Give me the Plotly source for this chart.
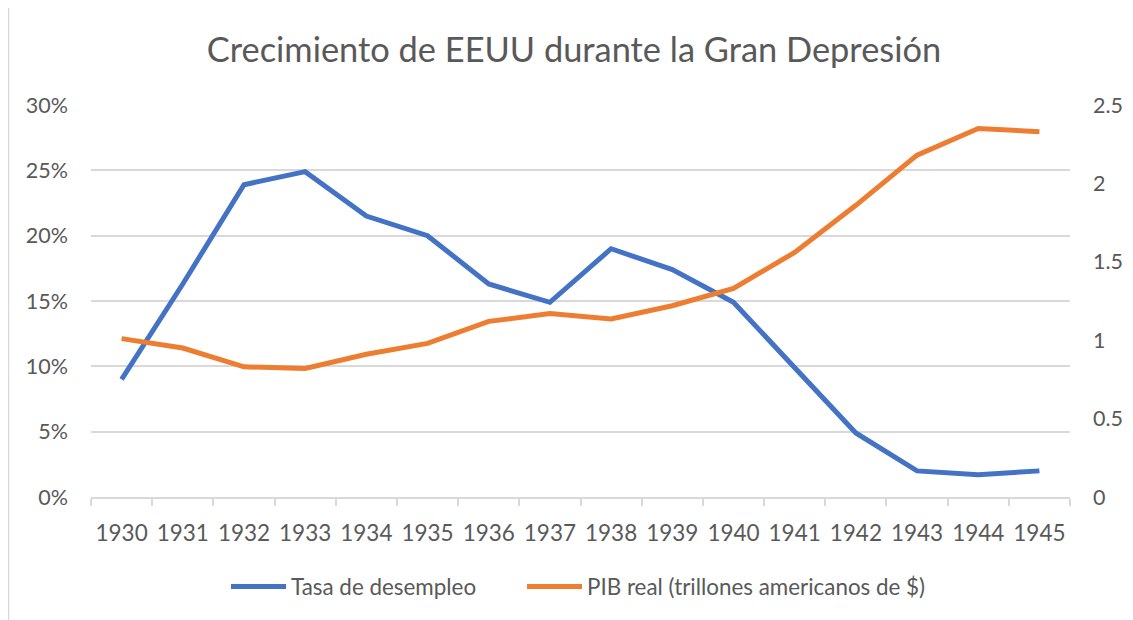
import plotly.graph_objects as go

years = ["1930", "1931", "1932", "1933", "1934", "1935", "1936", "1937",
         "1938", "1939", "1940", "1941", "1942", "1943", "1944", "1945"]
unemployment = [0.090, 0.163, 0.239, 0.249, 0.215, 0.200, 0.163, 0.149,
                0.190, 0.174, 0.149, 0.099, 0.049, 0.020, 0.017, 0.020]
gdp = [1.01, 0.95, 0.83, 0.82, 0.91, 0.98, 1.12, 1.17,
       1.135, 1.22, 1.33, 1.56, 1.86, 2.18, 2.35, 2.33]

FONT = "Lato"
GRAY = "#595959"
GRID = "#d9d9d9"

# page body has an 8px margin: work in reference pixels, shift by OFF
OFF = 8
W, H = 1133 - OFF, 620 - OFF
L, R, T, B = 91 - OFF, 1070 - OFF, 105 - OFF, 497 - OFF

def px_to_paper_x(px):
    return (px - OFF - L) / (R - L)

def px_to_paper_y(py):
    return (B - (py - OFF)) / (B - T)

fig = go.Figure()
fig.add_trace(go.Scatter(
    x=years, y=unemployment, name="Tasa de desempleo", mode="lines",
    line=dict(color="#4472C4", width=5), yaxis="y", legend="legend"))
fig.add_trace(go.Scatter(
    x=years, y=gdp, name="PIB real (trillones americanos de $)", mode="lines",
    line=dict(color="#ED7D31", width=5), yaxis="y2", legend="legend2"))

leg_common = dict(orientation="h", xanchor="left", yanchor="middle",
                  y=px_to_paper_y(587), bgcolor="rgba(0,0,0,0)",
                  font=dict(family=FONT, size=22.4, color=GRAY),
                  itemwidth=55)

fig.update_layout(
    width=W, height=H,
    margin=dict(l=L, r=W - R, t=T, b=H - B, pad=0, autoexpand=False),
    paper_bgcolor="white", plot_bgcolor="white",
    font=dict(family=FONT, color=GRAY),
    title=dict(text="Crecimiento de EEUU durante la Gran Depresión",
               x=px_to_paper_x(574), xref="paper", xanchor="center",
               y=1 - (50 - OFF) / H, yanchor="middle",
               font=dict(family=FONT, size=34.4, color=GRAY)),
    showlegend=True,
    legend=dict(x=px_to_paper_x(226), **leg_common),
    legend2=dict(x=px_to_paper_x(522), **leg_common),
    xaxis=dict(type="category", range=[-0.5, 15.5], showgrid=False,
               showline=True, linecolor=GRID, linewidth=1.5,
               ticks="outside", tickson="boundaries", ticklen=7,
               tickcolor=GRID, tickwidth=1.5, tickangle=0,
               tickfont=dict(family=FONT, size=22.5, color=GRAY),
               ticklabelstandoff=15, fixedrange=True),
    yaxis=dict(range=[0, 0.30], dtick=0.05, tickformat=".0%",
               showgrid=True, gridcolor=GRID, gridwidth=1.5,
               zeroline=False, showline=False, ticks="",
               tickfont=dict(family=FONT, size=21.5, color=GRAY),
               ticklabelstandoff=22),
    yaxis2=dict(range=[0, 2.5], dtick=0.5, overlaying="y", side="right",
                showgrid=False, zeroline=False, showline=False, ticks="",
                tickfont=dict(family=FONT, size=21.5, color=GRAY),
                ticklabelstandoff=22),
    shapes=[dict(type="rect", xref="paper", yref="paper", layer="below",
                 x0=px_to_paper_x(8.5), x1=px_to_paper_x(1145),
                 y0=px_to_paper_y(640), y1=px_to_paper_y(6.5),
                 line=dict(color=GRID, width=1.5), fillcolor="rgba(0,0,0,0)")],
)

fig.write_html("out.html")
